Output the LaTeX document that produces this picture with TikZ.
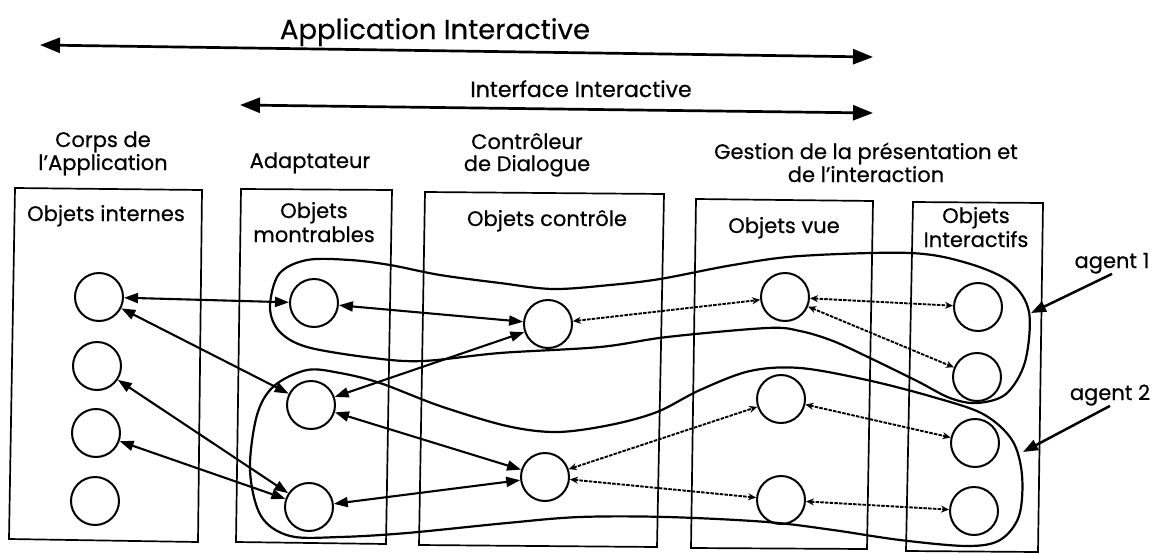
\documentclass[tikz,border=0pt]{standalone}
\usepackage{fontspec}
\setmainfont{Poppins}[FakeBold=0.5]
\usetikzlibrary{arrows.meta}
\begin{document}
\begin{tikzpicture}[x=1pt,y=-1pt,
  obj/.style={circle,draw,line width=2pt,minimum size=48pt,inner sep=0pt},
  frame/.style={draw,line width=1.7pt,line join=miter},
  link/.style={line width=2.1pt,{Triangle[length=14pt,width=10pt]}-{Triangle[length=14pt,width=10pt]}},
  msg/.style={line width=1.9pt,dash pattern=on 3.5pt off 1.2pt,
    {Stealth[open,length=8pt,width=7pt]}-{Stealth[open,length=8pt,width=7pt]}},
  agentline/.style={line width=2.2pt},
  span/.style={line width=2.7pt,{Triangle[length=20pt,width=15pt]}-{Triangle[length=20pt,width=15pt]}},
  pointer/.style={line width=2.5pt,-{Triangle[length=15pt,width=11pt]}},
  lbl/.style={font=\fontsize{21}{25}\selectfont,anchor=base,inner sep=0pt},
  bigl/.style={font=\fontsize{27.5}{32}\selectfont,anchor=base,inner sep=0pt}
]
\useasboundingbox (0,0) rectangle (1162,554);

% --- scope arrows at the top ---
\node[bigl] (app) at (435,39) {Application Interactive};
\coordinate (appL) at (40,45);
\coordinate (appR) at (873,57);
\draw[span] (appL) -- (appR);

\node[lbl,font=\fontsize{22}{26}\selectfont] (iface) at (581,97) {Interface Interactive};
\coordinate (ifL) at (240,105);
\coordinate (ifR) at (873,113);
\draw[span] (ifL) -- (ifR);

% --- layer titles ---
\node[lbl] (corps1) at (103,147) {Corps de};
\node[lbl] (corps2) at (103,170) {l’Application};
\node[lbl] (adapt) at (310,168) {Adaptateur};
\node[lbl] (ctrl1) at (527,149) {Contrôleur};
\node[lbl] (ctrl2) at (527,171) {de Dialogue};
\node[lbl] (gest1) at (866,159) {Gestion de la présentation et};
\node[lbl] (gest2) at (866,182) {de l’interaction};

% --- layer frames ---
\draw[frame] (15,188) -- (202,190) -- (198,542) -- (9,539) -- cycle;
\draw[frame] (241,189) -- (392,190) -- (386,544) -- (236,542) -- cycle;
\draw[frame] (425,192) -- (664,194) -- (657,547) -- (419,545) -- cycle;
\draw[frame] (696,199) -- (873,201) -- (867,549) -- (691,548) -- cycle;
\draw[frame] (913,202) -- (1043,203) -- (1038,552) -- (906,551) -- cycle;

\node[lbl] (t1) at (106,221) {Objets internes};
\node[lbl] (t2a) at (314,218) {Objets};
\node[lbl] (t2b) at (314,242) {montrables};
\node[lbl] (t3) at (547,226) {Objets contrôle};
\node[lbl] (t4) at (784,233) {Objets vue};
\node[lbl] (t5a) at (976,223) {Objets};
\node[lbl] (t5b) at (976,247) {Interactifs};

% --- agent outlines ---
\draw[agentline] plot[smooth cycle,tension=0.55] coordinates {
  (270,307) (279,274) (307,260) (350,260) (390,265) (440,275) (500,283)
  (553,289) (610,285) (660,279) (733,265) (800,256) (910,253) (967,263)
  (1010,282) (1029,312) (1025,362) (1006,394) (977,403) (950,398) (917,381)
  (870,358) (833,341) (800,331) (767,328) (667,337) (600,347) (500,353)
  (423,361) (373,358) (307,347) (279,331)};
\draw[agentline] plot[smooth cycle,tension=0.55] coordinates {
  (250,470) (257,415) (274,386) (307,370) (340,373) (380,383) (440,406)
  (507,426) (557,432) (610,425) (657,412) (700,390) (750,371) (800,368)
  (867,380) (933,397) (983,414) (1012,440) (1022,475) (1019,516) (1000,540)
  (967,546) (900,540) (833,530) (767,522) (667,517) (580,517) (507,523)
  (407,533) (340,537) (290,536) (261,516)};

% --- objects ---
\node[obj] (i1) at (99,297) {};
\node[obj] (i2) at (97,366) {};
\node[obj] (i3) at (96,433) {};
\node[obj] (i4) at (95,501) {};
\node[obj] (m1) at (314,303) {};
\node[obj] (m2) at (311,405) {};
\node[obj] (m3) at (309,507) {};
\node[obj] (c1) at (548,324) {};
\node[obj] (c2) at (545,477) {};
\node[obj] (v1) at (785,297) {};
\node[obj] (v2) at (781,399) {};
\node[obj] (v3) at (781,500) {};
\node[obj] (p1) at (978,307) {};
\node[obj] (p2) at (977,377) {};
\node[obj] (p3) at (975,443) {};
\node[obj] (p4) at (974,511) {};

% --- solid links ---
\draw[link] (i1) -- (m1);
\draw[link] (i1) -- (m2);
\draw[link] (i2) -- (m3);
\draw[link] (i3) -- (m3);
\draw[link] (m1) -- (c1);
\draw[link] (m2) -- (c1);
\draw[link] (m2) -- (c2);
\draw[link] (m3) -- (c2);

% --- dashed message links ---
\draw[msg] (c1) -- (v1);
\draw[msg] (v1) -- (p1);
\draw[msg] (v1) -- (p2);
\draw[msg] (c2) -- (v2);
\draw[msg] (c2) -- (v3);
\draw[msg] (v2) -- (p3);
\draw[msg] (v3) -- (p4);

% --- agent labels ---
\node[lbl] (ag1) at (1112,268) {agent 1};
\node[lbl] (ag2) at (1110,400) {agent 2};
\coordinate (a1tip) at (1031,313);
\coordinate (a2tip) at (1023,452);
\draw[pointer] (ag1.south) -- (a1tip);
\draw[pointer] (ag2.south) -- (a2tip);
\end{tikzpicture}
\end{document}
